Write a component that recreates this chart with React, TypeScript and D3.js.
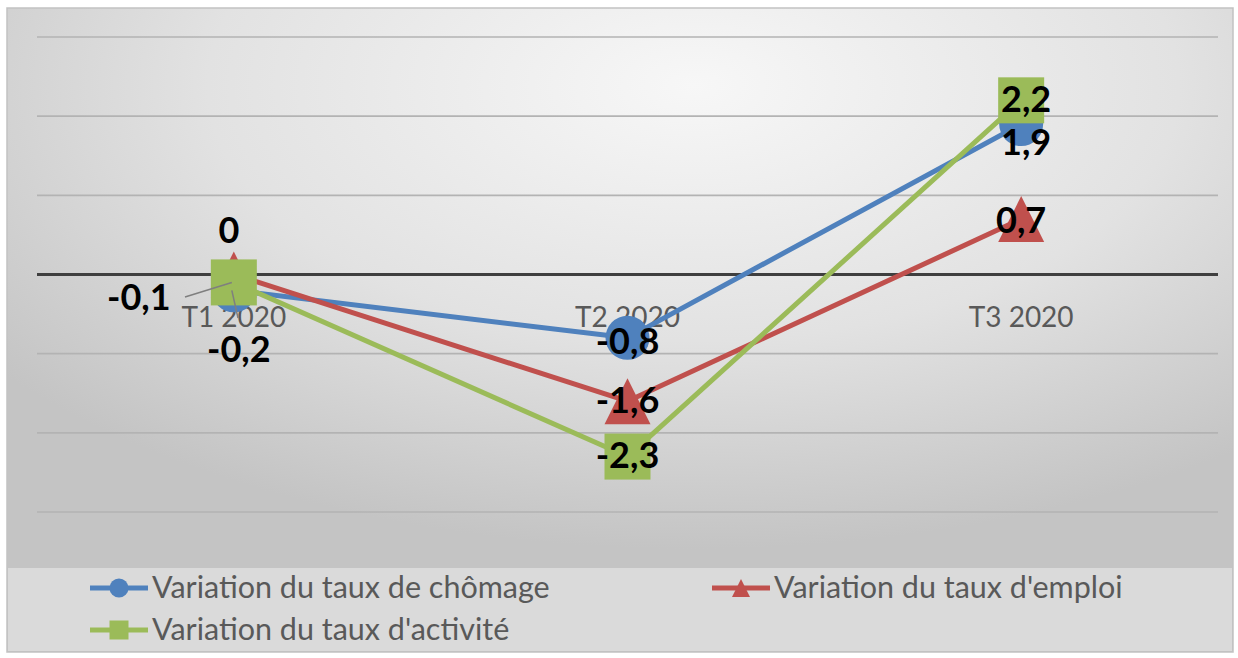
import React from "react";
import * as d3 from "d3";

const categories = ["T1 2020", "T2 2020", "T3 2020"];
const chomage = [-0.2, -0.8, 1.9];
const emploi = [0, -1.6, 0.7];
const activite = [-0.1, -2.3, 2.2];
const yTicks = [-3, -2, -1, 0, 1, 2, 3];
const seriesNames = [
  "Variation du taux de chômage",
  "Variation du taux d'emploi",
  "Variation du taux d'activité",
];
const colors = ["#4F81BD", "#C0504D", "#9BBB59"];
const shapes = ["circle", "triangle", "square"];

const W = 1238;
const H = 658;

function fmt(v: number) {
  return String(v).replace(".", ",");
}

function Marker({ shape, cx, cy, size, color }: any) {
  if (shape === "circle") return <circle cx={cx} cy={cy} r={size / 2} fill={color} />;
  if (shape === "square")
    return <rect x={cx - size / 2} y={cy - size / 2} width={size} height={size} fill={color} />;
  const h = size;
  return (
    <path
      d={`M${cx},${cy - h / 2} L${cx + size / 2},${cy + h / 2} L${cx - size / 2},${cy + h / 2} Z`}
      fill={color}
    />
  );
}

export default function App() {
  const x = d3.scalePoint<string>().domain(categories).range([37, 1218]).padding(0.5);
  const y = d3.scaleLinear().domain([-3, 3]).range([512, 37]);
  const data = [chomage, emploi, activite];
  const line = d3
    .line<number>()
    .x((_, i) => x(categories[i]) as number)
    .y((d) => y(d));

  const labelFont = "Lato, 'Open Sans', sans-serif";
  const markerSize = [44, 46, 46];

  // label placement (layout only): [dx, dyBaseline] per series per category
  const labelOffsets = [
    [[5, 72], [0, 16], [5, 31]],
    [[-5, -32], [0, 12], [0, 14]],
    [[-95, 28], [0, 11], [5, 12]],
  ];

  return (
    <svg width={W} height={H} style={{ position: "absolute", left: 0, top: 0 }}>
      <defs>
        <radialGradient id="bg" cx="0.56" cy="0.12" r="0.72">
          <stop offset="0" stopColor="#f7f7f7" />
          <stop offset="0.55" stopColor="#e2e2e2" />
          <stop offset="1" stopColor="#c4c4c4" />
        </radialGradient>
      </defs>
      <rect x={0} y={0} width={W} height={H} fill="#ffffff" />
      <rect x={7} y={8} width={1226} height={644} fill="url(#bg)" stroke="#c2c2c2" strokeWidth={1.5} />
      <rect x={8} y={568} width={1224} height={83} fill="#ffffff" opacity={0.38} />

      {yTicks.map((t) => (
        <line
          key={t}
          x1={37}
          x2={1218}
          y1={y(t)}
          y2={y(t)}
          stroke={t === 0 ? "#3f3f3f" : "#b3b3b3"}
          strokeWidth={t === 0 ? 3 : 1.6}
        />
      ))}

      {categories.map((c) => (
        <text
          key={c}
          x={x(c)}
          y={y(0) + 52}
          textAnchor="middle"
          fontFamily={labelFont}
          fontSize={28}
          fill="#595959"
        >
          {c}
        </text>
      ))}

      {data.map((s, si) => (
        <path
          key={si}
          d={line(s) || ""}
          fill="none"
          stroke={colors[si]}
          strokeWidth={5}
          strokeLinejoin="round"
          strokeLinecap="round"
        />
      ))}

      {data.map((s, si) =>
        s.map((v, i) => (
          <Marker
            key={si + "-" + i}
            shape={shapes[si]}
            cx={x(categories[i])}
            cy={y(v)}
            size={markerSize[si]}
            color={colors[si]}
          />
        ))
      )}

      {/* leader lines at T1 */}
      <line
        x1={185}
        y1={297}
        x2={(x(categories[0]) as number) - 2}
        y2={y(activite[0])}
        stroke="#7f7f7f"
        strokeWidth={1.5}
      />
      <line
        x1={(x(categories[0]) as number) - 2}
        y1={y(chomage[0])}
        x2={238}
        y2={318}
        stroke="#7f7f7f"
        strokeWidth={1.5}
      />

      {data.map((s, si) =>
        s.map((v, i) => (
          <text
            key={"l" + si + "-" + i}
            x={(x(categories[i]) as number) + labelOffsets[si][i][0]}
            y={y(v) + labelOffsets[si][i][1]}
            textAnchor="middle"
            fontFamily={labelFont}
            fontWeight="bold"
            fontSize={36}
            fill="#000000"
          >
            {fmt(v)}
          </text>
        ))
      )}

      {/* legend */}
      {seriesNames.map((n, si) => {
        const lx = si === 1 ? 712 : 90;
        const ly = si === 2 ? 630 : 588;
        return (
          <g key={n}>
            <line x1={lx} x2={lx + 58} y1={ly} y2={ly} stroke={colors[si]} strokeWidth={5} />
            <Marker shape={shapes[si]} cx={lx + 29} cy={ly} size={si === 1 ? 18 : 19} color={colors[si]} />
            <text
              x={lx + 62}
              y={ly + 10}
              fontFamily={labelFont}
              fontSize={30.5}
              fill="#595959"
            >
              {n}
            </text>
          </g>
        );
      })}
    </svg>
  );
}
